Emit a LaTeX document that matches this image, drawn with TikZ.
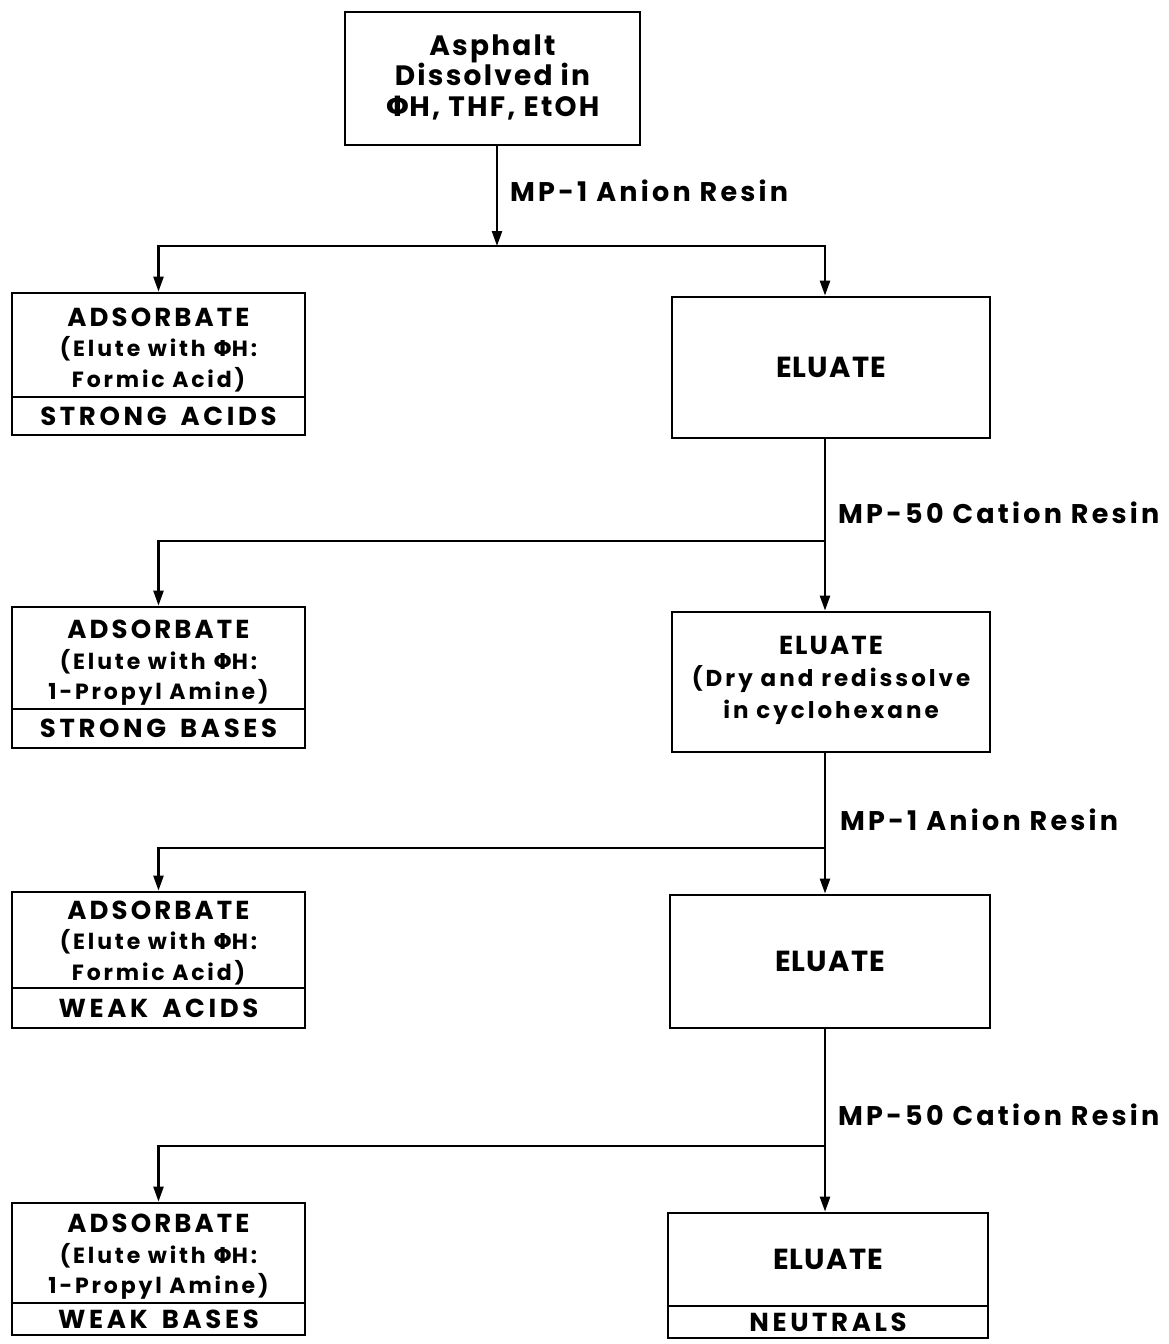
\documentclass[tikz,border=0pt]{standalone}
\usepackage{fontspec}
\setmainfont{Poppins}
\newfontfamily\grkfont{DejaVu Sans}
\usetikzlibrary{arrows.meta,calc}
\newcommand{\PhiH}{{\grkfont\bfseries Φ}H}
\newcommand{\fHead}{\bfseries\fontsize{26}{30.5}\selectfont\addfontfeature{LetterSpace=12}}
\newcommand{\fSub}{\bfseries\fontsize{22}{30.5}\selectfont\addfontfeature{LetterSpace=13}}
\newcommand{\fCls}{\bfseries\fontsize{26}{30}\selectfont\addfontfeature{LetterSpace=14}}
\newcommand{\fElu}{\bfseries\fontsize{29}{30}\selectfont\addfontfeature{LetterSpace=4}}
\newcommand{\fTop}{\bfseries\fontsize{28}{30.5}\selectfont\addfontfeature{LetterSpace=8}}
\newcommand{\fLbl}{\bfseries\fontsize{27}{30}\selectfont\addfontfeature{LetterSpace=12}}
\newcommand{\wsp}{\hspace{14pt}}
\tikzset{
  arr/.style={line width=2.4pt,-{Triangle[length=15pt,width=10pt]}},
  bx/.style={draw,line width=2.8pt,inner sep=0pt,align=center,font=\bfseries\fontsize{23}{30}\selectfont},
  txt/.style={align=center,inner sep=0pt},
  lbl/.style={anchor=west,inner sep=0pt,font=\fLbl},
}
\begin{document}
\begin{tikzpicture}[x=1pt,y=-1pt]
\useasboundingbox (0,0) rectangle (1169,1344);
% boxes
\node[bx,minimum width=295pt,minimum height=133pt] (T) at (492.5,78.5) {};
\node[txt,font=\fTop] (Tx) at (492.5,77) {Asphalt\\Dissolved in\\\PhiH, THF, EtOH};
\node[bx,minimum width=293pt,minimum height=104pt] (L1t) at (158.5,345) {};
\node[txt,font=\fHead] (L1x) at (158.5,350) {ADSORBATE\\{\fSub (Elute with \PhiH:}\\{\fSub Formic Acid)}};
\node[bx,minimum width=293pt,minimum height=38pt,font=\fCls] (L1b) at (158.5,416) {STRONG\wsp ACIDS};
\node[bx,minimum width=318pt,minimum height=141pt,font=\fElu] (R1) at (831,367.5) {ELUATE};
\node[bx,minimum width=293pt,minimum height=102pt] (L2t) at (158.5,658) {};
\node[txt,font=\fHead] (L2x) at (158.5,663) {ADSORBATE\\{\fSub (Elute with \PhiH:}\\{\fSub 1-Propyl Amine)}};
\node[bx,minimum width=293pt,minimum height=39pt,font=\fCls] (L2b) at (158.5,728.5) {STRONG\wsp BASES};
\node[bx,minimum width=318pt,minimum height=140pt] (R2) at (831,682) {};
\node[txt,font=\bfseries\fontsize{26}{32}\selectfont\addfontfeature{LetterSpace=8}] (R2x) at (831,680) {ELUATE\\{\fSub\fontsize{23}{32}\selectfont\addfontfeature{LetterSpace=13} (Dry and redissolve}\\{\fSub\fontsize{23}{32}\selectfont\addfontfeature{LetterSpace=13} in cyclohexane}};
\node[bx,minimum width=293pt,minimum height=96pt] (L3t) at (158.5,940) {};
\node[txt,font=\fHead] (L3x) at (158.5,943) {ADSORBATE\\{\fSub (Elute with \PhiH:}\\{\fSub Formic Acid)}};
\node[bx,minimum width=293pt,minimum height=40pt,font=\fCls] (L3b) at (158.5,1008) {WEAK\wsp ACIDS};
\node[bx,minimum width=320pt,minimum height=133pt,font=\fElu] (R3) at (830,961.5) {ELUATE};
\node[bx,minimum width=293pt,minimum height=100pt] (L4t) at (158.5,1253) {};
\node[txt,font=\fHead] (L4x) at (158.5,1257) {ADSORBATE\\{\fSub (Elute with \PhiH:}\\{\fSub 1-Propyl Amine)}};
\node[bx,minimum width=293pt,minimum height=32pt,font=\fCls] (L4b) at (158.5,1319) {WEAK\wsp BASES};
\node[bx,minimum width=320pt,minimum height=93pt,font=\fElu] (R4t) at (828,1259.5) {ELUATE};
\node[bx,minimum width=320pt,minimum height=32pt,font=\fCls] (R4b) at (828,1322) {NEUTRALS};
% labels
\node[lbl] (la) at (510,191) {MP-1 Anion Resin};
\node[lbl] (lb) at (838,513) {MP-50 Cation Resin};
\node[lbl] (lc) at (840,820) {MP-1 Anion Resin};
\node[lbl] (ld) at (838,1115) {MP-50 Cation Resin};
% junctions
\coordinate (j1) at (497,246);
\coordinate (j2) at (825,541);
\coordinate (j3) at (825,848);
\coordinate (j4) at (825,1146);
% connectors
\draw[arr] (T.south -| j1) -- (j1);
\draw[arr] (j1) -| (L1t.north);
\draw[arr] (j1) -| ($(R1.north)+(-6,0)$);
\draw[arr] ($(R1.south)+(-6,0)$) -- ($(R2.north)+(-6,0)$);
\draw[arr] (j2) -| (L2t.north);
\draw[arr] ($(R2.south)+(-6,0)$) -- ($(R3.north)+(-5,0)$);
\draw[arr] (j3) -| (L3t.north);
\draw[arr] ($(R3.south)+(-5,0)$) -- ($(R4t.north)+(-3,0)$);
\draw[arr] (j4) -| (L4t.north);
\end{tikzpicture}
\end{document}
